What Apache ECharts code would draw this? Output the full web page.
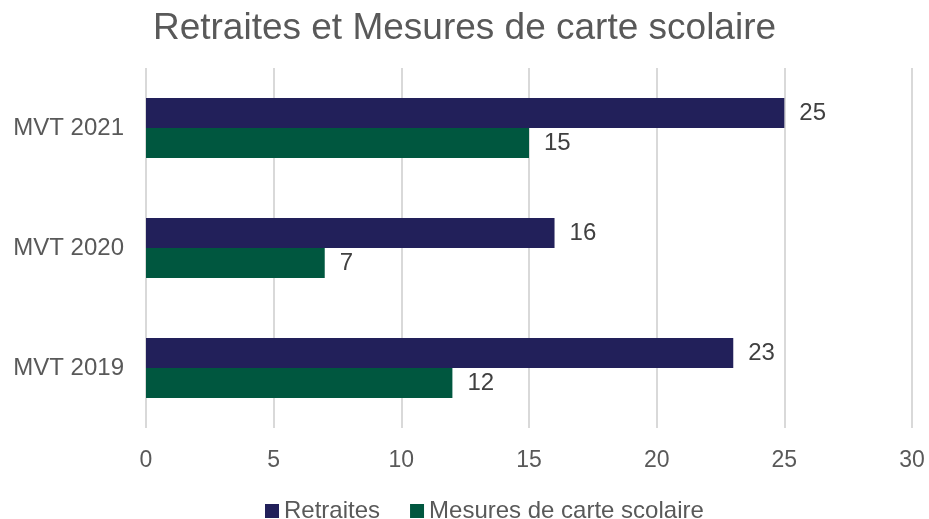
<!DOCTYPE html>
<html lang="fr">
<head>
    <meta charset="UTF-8">
    <title>Retraites et Mesures de carte scolaire</title>
    <script src="https://cdn.jsdelivr.net/npm/echarts@6/dist/echarts.min.js"></script>
    <style>
        html, body { margin: 0; padding: 0; background: #fff; }
    </style>
</head>
<body>
    <div id="main" style="width: 929px;height:519px;"></div>
    <script type="text/javascript">
        // categories listed top to bottom
        const categories = ['MVT 2021', 'MVT 2020', 'MVT 2019'];
        const retraites = [25, 16, 23];
        const mesures = [15, 7, 12];
        const xTicks = [0, 5, 10, 15, 20, 25, 30];

        const font = 'Arial, "Liberation Sans", sans-serif';
        const labelStyle = {
            show: true,
            position: 'right',
            distance: 15,
            color: '#404040',
            fontSize: 24,
            fontFamily: font
        };

        let myChart = echarts.init(document.getElementById('main'));
        myChart.setOption({
            animation: false,
            title: {
                text: 'Retraites et Mesures de carte scolaire',
                left: 'center',
                top: 5,
                textStyle: { color: '#595959', fontSize: 37, fontWeight: 'normal', fontFamily: font }
            },
            legend: {
                top: 494,
                left: 260,
                itemWidth: 14,
                itemHeight: 14,
                itemGap: 30,
                icon: 'rect',
                textStyle: { color: '#595959', fontSize: 24, fontFamily: font }
            },
            grid: { left: 146, right: 17, top: 68, bottom: 91 },
            xAxis: {
                type: 'value',
                min: xTicks[0],
                max: xTicks[xTicks.length - 1],
                interval: 5,
                axisLine: { show: false },
                axisTick: { show: false },
                axisLabel: { color: '#595959', fontSize: 23, fontFamily: font, margin: 21 },
                splitLine: { lineStyle: { color: '#d9d9d9', width: 2 } }
            },
            yAxis: {
                type: 'category',
                inverse: true,
                data: categories,
                axisLine: { show: false },
                axisTick: { show: false },
                axisLabel: { color: '#595959', fontSize: 24, fontFamily: font, margin: 22 }
            },
            series: [
                {
                    name: 'Retraites',
                    type: 'bar',
                    data: retraites,
                    itemStyle: { color: '#22205a' },
                    barGap: '0%',
                    barCategoryGap: '50%',
                    label: labelStyle
                },
                {
                    name: 'Mesures de carte scolaire',
                    type: 'bar',
                    data: mesures,
                    itemStyle: { color: '#00573f' },
                    barGap: '0%',
                    barCategoryGap: '50%',
                    label: labelStyle
                }
            ]
        });
    </script>
</body>
</html>
